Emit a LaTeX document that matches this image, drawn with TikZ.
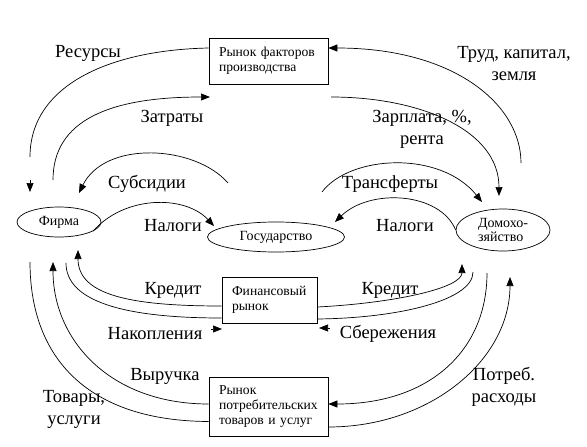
\documentclass[tikz,border=0pt]{standalone}
\usepackage{fontspec}
\setmainfont{Liberation Serif}
\usetikzlibrary{arrows.meta,shapes.geometric}

\begin{document}
\begin{tikzpicture}[x=1pt, y=-1pt,
    line/.style={line width=0.7pt},
    flow/.style={line width=0.7pt, -{Triangle[length=9pt,width=7pt]}},
    market/.style={draw, line width=0.7pt, rectangle, align=left, inner xsep=10pt,
      font=\fontsize{13.6}{15}\selectfont},
    agent/.style={draw, line width=0.7pt, ellipse, inner sep=0pt, align=left,
      font=\fontsize{14}{14}\selectfont},
    lbl/.style={font=\fontsize{18.5}{22}\selectfont, align=center, inner sep=0pt}]
  \useasboundingbox (0,0) rectangle (587,447);
  % Markets
  \node[market, minimum width=119pt, minimum height=46pt, text width=99pt] (factors) at (268.5,61) {Рынок факторов\\производства};
  \node[market, minimum width=95pt, minimum height=46pt, text width=75pt] (finance) at (269.5,300) {Финансовый\\рынок};
  \node[market, minimum width=119pt, minimum height=59pt, text width=99pt] (consumer) at (268.5,406.5) {Рынок\\потребительских\\товаров и услуг};
  % Agents
  \node[agent, minimum width=84pt, minimum height=30pt] (firm) at (59,222) {Фирма};
  \node[agent, minimum width=137pt, minimum height=30pt] (state) at (276,237) {Государство};
  \node[agent, minimum width=94pt, minimum height=42pt] (house) at (503,230) {Домохо-\\зяйство};
  % Free ends of the connectors
  \coordinate (resEnd) at (30,157);
  \coordinate (resTail) at (30,180);
  \coordinate (resIn) at (30,192);
  \coordinate (costOut) at (53,180);
  \coordinate (costIn) at (210,97);
  \coordinate (labOut) at (521,163);
  \coordinate (wageOut) at (331,97);
  \coordinate (wageIn) at (499,196);
  \coordinate (subOut) at (228,183);
  \coordinate (subIn) at (79,193);
  \coordinate (trOut) at (322,192);
  \coordinate (trIn) at (482,202);
  \coordinate (taxInL) at (214,226);
  \coordinate (taxInR) at (335,222);
  \coordinate (credInL) at (78,250);
  \coordinate (accOut) at (66,263);
  \coordinate (accTail) at (211,329);
  \coordinate (accTip) at (222,329);
  \coordinate (credInR) at (462,264);
  \coordinate (savOut) at (473,272);
  \coordinate (savTail) at (330,328);
  \coordinate (savTip) at (319,328);
  \coordinate (goodsOut) at (30,262);
  \coordinate (revIn) at (53,262);
  \coordinate (spendIn) at (510,277);
  \coordinate (buyOut) at (487,273);
  % Factor market
  \draw[line] ([yshift=13pt]factors.west) .. controls (110,50) and (30,85) .. (resEnd);
  \draw[flow] (resTail) -- (resIn);
  \draw[flow] (costOut) .. controls (53,120) and (110,97) .. (costIn);
  \draw[flow] (labOut) .. controls (521,105) and (455,48) .. ([yshift=13pt]factors.east);
  \draw[flow] (wageOut) .. controls (420,97) and (499,130) .. (wageIn);
  % State
  \draw[flow] (subOut) .. controls (195,145) and (105,140) .. (subIn);
  \draw[flow] (trOut) .. controls (350,155) and (440,150) .. (trIn);
  \draw[flow] (firm.-15) .. controls (125,195) and (185,195) .. (taxInL);
  \draw[flow] (house.west) .. controls (440,192) and (370,188) .. (taxInR);
  % Financial market
  \draw[flow] ([yshift=-6pt]finance.west) .. controls (130,306) and (78,295) .. (credInL);
  \draw[line] (accOut) .. controls (66,300) and (120,318) .. ([yshift=-18pt]finance.west);
  \draw[flow] (accTail) -- (accTip);
  \draw[flow] ([yshift=-7pt]finance.east) .. controls (395,303) and (462,288) .. (credInR);
  \draw[line] (savOut) .. controls (473,300) and (400,318) .. ([yshift=-19pt]finance.east);
  \draw[flow] (savTail) -- (savTip);
  % Consumer market
  \draw[line] (goodsOut) .. controls (30,360) and (90,421) .. ([yshift=-15pt]consumer.west);
  \draw[flow] ([yshift=2.5pt]consumer.west) .. controls (110,404) and (53,340) .. (revIn);
  \draw[flow] ([yshift=-20.5pt]consumer.east) .. controls (430,427) and (510,360) .. (spendIn);
  \draw[flow] (buyOut) .. controls (487,350) and (430,404) .. ([yshift=2.5pt]consumer.east);
  % Labels
  \node[lbl] (resources) at (88,53) {Ресурсы};
  \node[lbl] (labour) at (514,64) {Труд, капитал,\\земля};
  \node[lbl] (costs) at (172,118) {Затраты};
  \node[lbl] (wages) at (422,129) {Зарплата, \%,\\рента};
  \node[lbl] (subsidies) at (147,184) {Субсидии};
  \node[lbl] (transfers) at (390,184) {Трансферты};
  \node[lbl] (taxesL) at (173,226) {Налоги};
  \node[lbl] (taxesR) at (405,226) {Налоги};
  \node[lbl] (creditL) at (173,290) {Кредит};
  \node[lbl] (creditR) at (390,290) {Кредит};
  \node[lbl] (accum) at (155,334) {Накопления};
  \node[lbl] (savings) at (388,334) {Сбережения};
  \node[lbl] (revenue) at (165,376) {Выручка};
  \node[lbl] (goods) at (74,409) {Товары,\\услуги};
  \node[lbl] (spending) at (504,387) {Потреб.\\расходы};
\end{tikzpicture}
\end{document}
